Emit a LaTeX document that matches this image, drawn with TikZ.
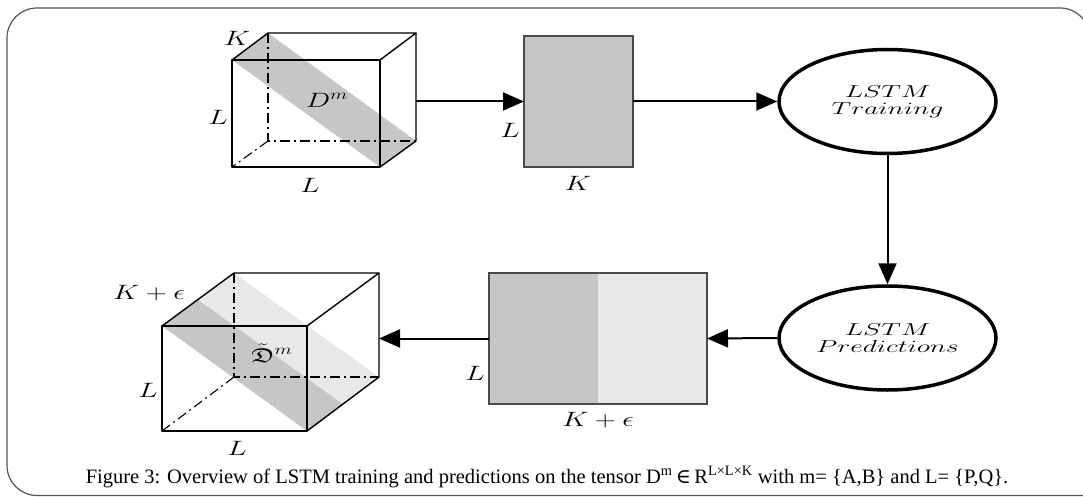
\documentclass[tikz,border=0pt]{standalone}
\usepackage{fontspec}
\usepackage{amssymb}
\usepackage{graphicx}
\usetikzlibrary{arrows.meta,shapes.geometric}
\newfontfamily\capfont{Liberation Serif}
\newfontfamily\symfont{DejaVu Serif}
\definecolor{bandgray}{HTML}{C6C6C6}
\definecolor{lightgraytwo}{HTML}{E8E8E8}
\definecolor{framegray}{HTML}{555555}
\definecolor{rectedge}{HTML}{4A4A4A}
\newcommand{\wlab}[1]{\scalebox{1.4}[1]{#1}}
\newcommand{\wlstm}[1]{\scalebox{1.6}[1]{#1}}
\begin{document}
\begin{tikzpicture}[x=1pt,y=-1pt,
  edge/.style={line width=1.4pt,black,line join=round},
  hidden/.style={line width=1.1pt,black,dash pattern=on 10pt off 4pt on 2pt off 4pt},
  arr/.style={line width=2pt,-{Triangle[length=21pt,width=18pt]}},
  boxnode/.style={draw=rectedge,line width=1.2pt,inner sep=0pt,outer sep=0pt},
  lstm/.style={ellipse,draw,line width=3.5pt,minimum width=217pt,minimum height=104pt,inner sep=0pt,align=center,font=\fontsize{16}{19}\selectfont},
  lab/.style={font=\fontsize{20}{22}\selectfont,inner sep=0pt},
  ghost/.style={inner sep=0pt,outer sep=0pt},
]
\useasboundingbox (0,0) rectangle (1083,497);
% frame
\draw[framegray,line width=1.2pt,rounded corners=30pt] (1090,540) -- (1090,8) -- (7,8) -- (7,495.5) -- (1120,495.5);

% cube 1
\fill[bandgray] (232,60) -- (268,33) -- (416,141) -- (380,167) -- cycle;
\draw[hidden] (268,33) -- (268,141) -- (416,141);
\draw[hidden] (268,141) -- (232,167);
\draw[edge] (232,60) rectangle (380,167);
\draw[edge] (232,60) -- (268,33) -- (416,33) -- (380,60);
\draw[edge] (416,33) -- (416,141) -- (380,167);
\node[ghost,minimum width=184pt,minimum height=131pt] (cube1) at (324,101.5) {};
\node[lab] (k1) at (237,38) {\wlab{$K$}};
\node[lab] (l1a) at (218,117) {\wlab{$L$}};
\node[lab] (l1b) at (310,185) {\wlab{$L$}};
\node[lab] (d1) at (327,100) {\wlab{$D^m$}};

% rect 1
\node[boxnode,fill=bandgray,minimum width=109pt,minimum height=131pt] (rect1) at (578.5,101.5) {};
\node[lab] (l2) at (510,130) {\wlab{$L$}};
\node[lab] (k2) at (578,183) {\wlab{$K$}};

% ellipses
\node[lstm] (ell1) at (887.5,101.5) {\wlstm{$LSTM$}\\[-2pt]\wlstm{$Training$}};
\node[lstm] (ell2) at (887.5,338) {\wlstm{$LSTM$}\\[-2pt]\wlstm{$Predictions$}};

% rect 2
\node[boxnode,fill=lightgraytwo,minimum width=218pt,minimum height=131pt] (rect2) at (598,338.5) {};
\fill[bandgray] (rect2.north west) rectangle (rect2.south);
\draw[rectedge,line width=1.2pt] (rect2.north west) rectangle (rect2.south east);
\node[lab] (l3) at (475,373) {\wlab{$L$}};
\node[lab] (k3) at (598,420) {\wlab{$K+\epsilon$}};

% cube 2
\fill[bandgray] (162,326) -- (198,299.5) -- (343,404) -- (307,431) -- cycle;
\fill[lightgraytwo] (198,299.5) -- (234,273) -- (379,377) -- (343,404) -- cycle;
\draw[hidden] (234,273) -- (234,377) -- (379,377);
\draw[hidden] (234,377) -- (162,431);
\draw[edge] (162,326) rectangle (307,431);
\draw[edge] (162,326) -- (234,273) -- (379,273) -- (307,326);
\draw[edge] (379,273) -- (379,377) -- (307,431);
\node[ghost,minimum width=217pt,minimum height=158pt] (cube2) at (270.5,352) {};
\node[lab] (k4) at (149,293) {\wlab{$K+\epsilon$}};
\node[lab] (l4a) at (148,390) {\wlab{$L$}};
\node[lab] (l4b) at (237,448) {\wlab{$L$}};
\node[lab] (d2) at (272,353) {\wlab{$\tilde{\mathfrak{D}}^m$}};

% connectors
\draw[arr] (cube1.east) -- (rect1.west);
\draw[arr] (rect1.east) -- (ell1.west);
\draw[arr] (ell1.south) -- (ell2.north);
\draw[arr] (ell2.west) -- (rect2.east);
\draw[arr] (rect2.west) -- (rect2.west -| cube2.east);

% caption
\node[font=\capfont\fontsize{20.5}{24}\selectfont,inner sep=0pt] (cap) at (547,477) {Figure 3: Overview of LSTM training and predictions on the tensor D\textsuperscript{m}\,{\symfont ∈}\,R\textsuperscript{L×L×K} with m= \{A,B\} and L= \{P,Q\}.};
\end{tikzpicture}
\end{document}
